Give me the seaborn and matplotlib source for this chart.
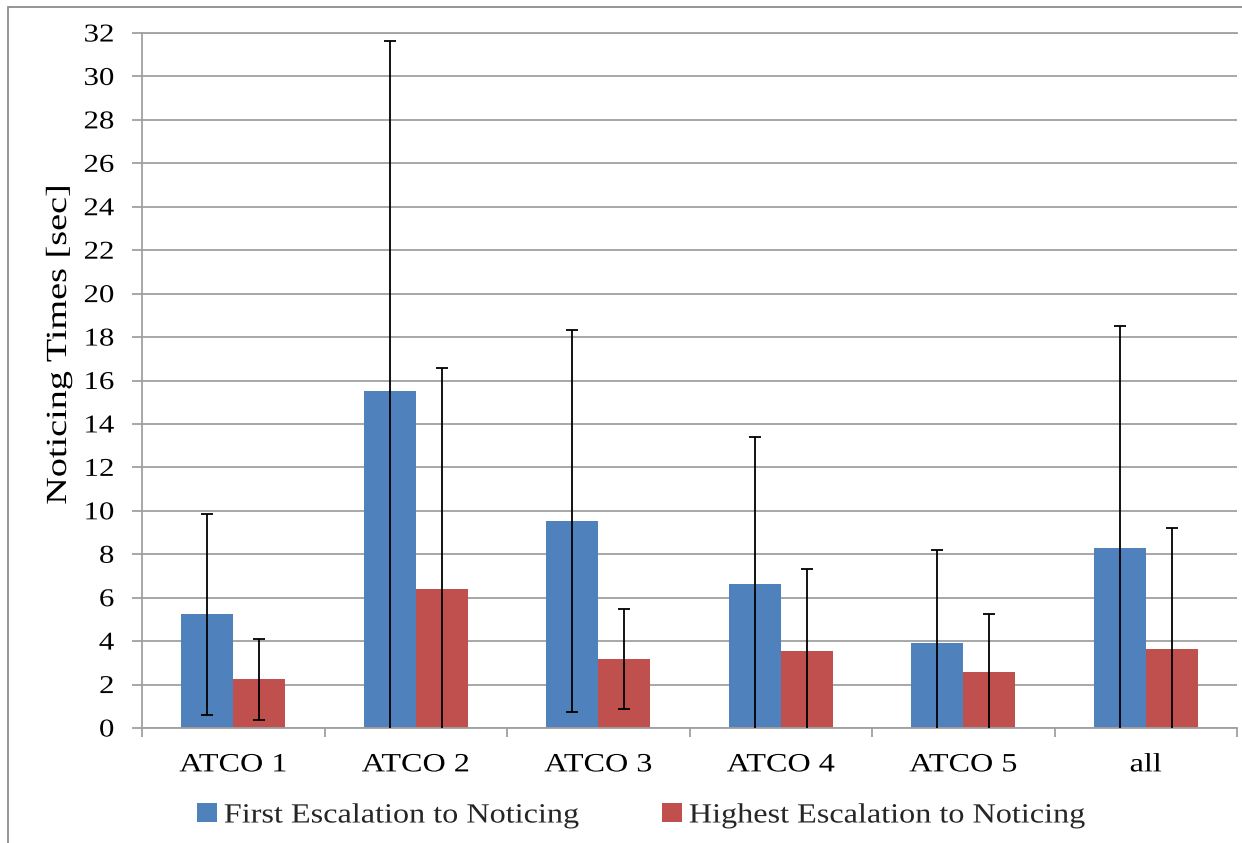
import numpy as np
import pandas as pd
import matplotlib
matplotlib.use("Agg")
import matplotlib.pyplot as plt
import seaborn as sns
from matplotlib.patches import Patch, Rectangle
from matplotlib.patheffects import AbstractPathEffect
from matplotlib.transforms import Affine2D

# ---- data ----
categories = ["ATCO 1", "ATCO 2", "ATCO 3", "ATCO 4", "ATCO 5", "all"]
series_names = ["First Escalation to Noticing", "Highest Escalation to Noticing"]
first_mean = [5.23, 15.52, 9.53, 6.64, 3.90, 8.27]
first_sd = [4.62, 16.10, 8.80, 6.76, 4.28, 10.23]
highest_mean = [2.24, 6.38, 3.16, 3.53, 2.58, 3.64]
highest_sd = [1.88, 10.20, 2.30, 3.78, 2.68, 5.57]
y_ticks = list(range(0, 33, 2))
y_label = "Noticing Times [sec]"

colors = ["#4F81BD", "#C0504D"]
grid_c = "#a0a0a0"


class Stretch(AbstractPathEffect):
    """Stretch text glyphs along one direction around an anchor of the ink box."""
    def __init__(self, sx=1.0, sy=1.0, anchor="center"):
        super().__init__()
        self.sx, self.sy, self.anchor = sx, sy, anchor

    def draw_path(self, renderer, gc, tpath, affine, rgbFace=None):
        bb = tpath.get_extents(affine)
        if self.anchor == "left":
            x0 = bb.x0
        elif self.anchor == "right":
            x0 = bb.x1
        else:
            x0 = 0.5 * (bb.x0 + bb.x1)
        y0 = 0.5 * (bb.y0 + bb.y1)
        t = affine + Affine2D().translate(-x0, -y0).scale(self.sx, self.sy).translate(x0, y0)
        renderer.draw_path(gc, tpath, t, rgbFace)


df = pd.DataFrame({
    "cat": categories * 2,
    "series": [series_names[0]] * len(categories) + [series_names[1]] * len(categories),
    "value": first_mean + highest_mean,
})

sns.set_style("white")
plt.rcParams["font.family"] = ["Liberation Serif", "DejaVu Serif"]

W, H = 1242, 843
fig = plt.figure(figsize=(W / 100, H / 100), dpi=100)
ax = fig.add_axes([142 / W, (H - 728) / H, (1237 - 142) / W, (728 - 33) / H])

sns.barplot(data=df, x="cat", y="value", hue="series", order=categories,
            hue_order=series_names, palette=colors, width=0.572,
            saturation=1, errorbar=None, legend=False, ax=ax, zorder=2,
            linewidth=0)

# error bars
for cont, sds in zip(ax.containers, [first_sd, highest_sd]):
    xs = [p.get_x() + p.get_width() / 2 for p in cont.patches]
    hs = [p.get_height() for p in cont.patches]
    ax.errorbar(xs, hs, yerr=sds, fmt="none", ecolor="black", elinewidth=1.3,
                capsize=4.3, capthick=1.3, zorder=3)

ax.set_xlim(-0.5, len(categories) - 0.5)
ax.set_ylim(0, 32)
ax.set_yticks(y_ticks)
ax.set_yticklabels([str(t) for t in y_ticks])
ax.set_xticks(range(len(categories)))
ax.set_xticklabels(categories)
ax.set_xticks(np.arange(-0.5, len(categories), 1.0), minor=True)
ax.set_xlabel("")

ax.yaxis.grid(True, color=grid_c, lw=1.3, zorder=0)
ax.set_axisbelow(True)
ax.spines["right"].set_visible(False)
for s in ["left", "bottom", "top"]:
    ax.spines[s].set_color(grid_c)
    ax.spines[s].set_linewidth(1.3)

ax.tick_params(axis="y", which="major", direction="out", length=7, width=1.3,
               color=grid_c, labelsize=18.5, labelcolor="black", pad=13, left=True)
ax.tick_params(axis="x", which="major", length=0, labelsize=19, labelcolor="black", pad=19)
ax.tick_params(axis="x", which="minor", direction="out", length=6.5, width=1.3,
               color=grid_c, bottom=True)

for t in ax.get_yticklabels():
    t.set_path_effects([Stretch(sx=1.2, anchor="right")])
for t in ax.get_xticklabels():
    t.set_path_effects([Stretch(sx=1.22, anchor="center")])

ax.set_ylabel(y_label, fontsize=21, color="black", va="center")
ax.yaxis.set_label_coords((59 - 142) / (1237 - 142), (728 - 345) / (728 - 33))
ax.yaxis.label.set_path_effects([Stretch(sy=1.31, anchor="center")])

handles = [Patch(facecolor=c, edgecolor="none") for c in colors]
leg = fig.legend(handles, series_names, loc="center left",
                 bbox_to_anchor=(197 / W, 1 - 816 / H), ncol=2, frameon=False,
                 fontsize=20, handlelength=0.72, handleheight=0.65,
                 handletextpad=0.25, columnspacing=4.75, borderpad=0,
                 borderaxespad=0)
for t in leg.get_texts():
    t.set_path_effects([Stretch(sx=1.16, anchor="left")])

# outer chart border (left and top edges visible)
fig.add_artist(Rectangle((8 / W, -0.05), 1.5, (1 - 7 / H) + 0.05,
                         transform=fig.transFigure, fill=False,
                         edgecolor="#8c8c8c", lw=1.3))

fig.savefig("out.png", dpi=100)
